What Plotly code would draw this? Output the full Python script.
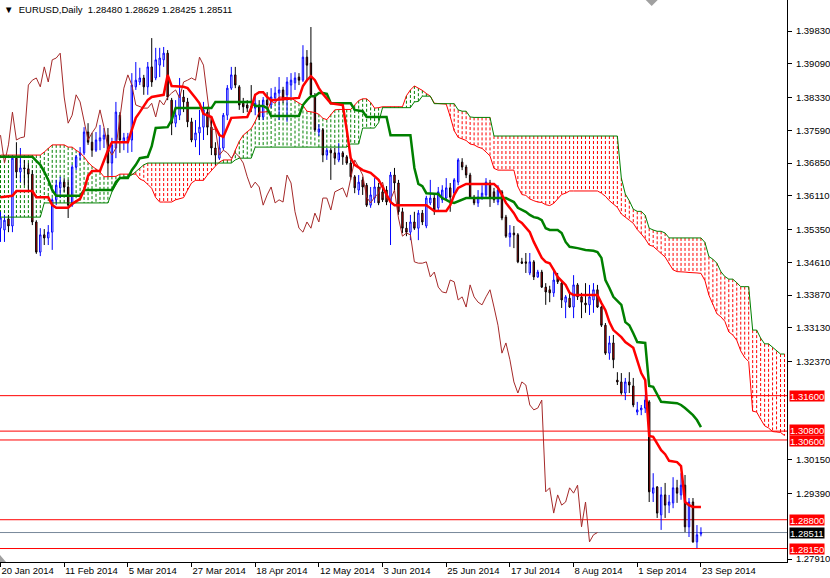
import plotly.graph_objects as go

# ---------------- data ----------------
open_ = [1.3538,1.3534,1.3559,1.3543,1.3696,1.3665,1.3674,1.3672,1.3660,1.3552,
1.3484,1.3523,1.3516,1.3529,1.3602,1.3629,1.3642,1.3631,1.3590,1.3676,
1.3703,1.3708,1.3755,1.3732,1.3714,1.3735,1.3739,1.3748,1.3685,1.3719,
1.3793,1.3732,1.3732,1.3737,1.3857,1.3868,1.3877,1.3857,1.3902,1.3877,
1.3906,1.3918,1.3933,1.3827,1.3775,1.3793,1.3834,1.3823,1.3778,1.3737,
1.3753,1.3766,1.3800,1.3766,1.3719,1.3696,1.3719,1.3793,1.3854,1.3884,
1.3857,1.3820,1.3816,1.3812,1.3809,1.3816,1.3789,1.3827,1.3816,1.3832,
1.3843,1.3850,1.3839,1.3861,1.3866,1.3879,1.3872,1.3924,1.3911,1.3834,
1.3755,1.3760,1.3703,1.3714,1.3708,1.3692,1.3708,1.3699,1.3685,1.3654,
1.3624,1.3647,1.3635,1.3590,1.3606,1.3631,1.3620,1.3624,1.3597,1.3658,
1.3640,1.3575,1.3538,1.3529,1.3552,1.3538,1.3572,1.3543,1.3595,1.3606,
1.3584,1.3602,1.3606,1.3629,1.3617,1.3642,1.3687,1.3676,1.3658,1.3608,
1.3595,1.3606,1.3613,1.3640,1.3620,1.3597,1.3620,1.3563,1.3518,1.3527,
1.3523,1.3462,1.3462,1.3437,1.3462,1.3428,1.3439,1.3405,1.3399,1.3392,
1.3428,1.3414,1.3371,1.3380,1.3360,1.3410,1.3383,1.3369,1.3365,1.3376,
1.3399,1.3360,1.3319,1.3256,1.3279,1.3195,1.3191,1.3166,1.3191,1.3182,
1.3123,1.3128,1.3132,1.3146,1.2940,1.2954,1.2891,1.2936,1.2913,1.2918,
1.2952,1.2936,1.2958,1.2864,1.2920,1.2830,1.28480]

high = [1.3575,1.3568,1.3568,1.3703,1.3732,1.3719,1.3692,1.3685,1.3669,1.3556,
1.3538,1.3536,1.3545,1.3606,1.3647,1.3654,1.3651,1.3647,1.3681,1.3703,
1.3721,1.3766,1.3775,1.3753,1.3755,1.3771,1.3764,1.3764,1.3742,1.3823,
1.3800,1.3753,1.3753,1.3888,1.3913,1.3900,1.3884,1.3913,1.3967,1.3945,
1.3945,1.3947,1.3940,1.3832,1.3827,1.3877,1.3850,1.3832,1.3787,1.3782,
1.3805,1.3823,1.3812,1.3787,1.3732,1.3753,1.3798,1.3861,1.3902,1.3902,
1.3861,1.3832,1.3827,1.3861,1.3834,1.3827,1.3834,1.3845,1.3854,1.3857,
1.3879,1.3857,1.3879,1.3888,1.3890,1.3888,1.3951,1.3940,1.3992,1.3843,
1.3773,1.3764,1.3719,1.3719,1.3719,1.3730,1.3712,1.3703,1.3692,1.3658,
1.3658,1.3654,1.3640,1.3631,1.3651,1.3640,1.3631,1.3633,1.3665,1.3674,
1.3647,1.3584,1.3552,1.3568,1.3575,1.3579,1.3579,1.3611,1.3647,1.3613,
1.3631,1.3635,1.3651,1.3640,1.3651,1.3696,1.3696,1.3681,1.3663,1.3613,
1.3624,1.3635,1.3651,1.3647,1.3629,1.3635,1.3624,1.3568,1.3545,1.3543,
1.3527,1.3471,1.3482,1.3482,1.3466,1.3444,1.3444,1.3414,1.3408,1.3444,
1.3437,1.3419,1.3387,1.3392,1.3432,1.3414,1.3392,1.3414,1.3410,1.3414,
1.3410,1.3362,1.3324,1.3295,1.3297,1.3213,1.3211,1.3200,1.3213,1.3200,
1.3146,1.3139,1.3162,1.3150,1.2985,1.2956,1.2954,1.2963,1.2936,1.2976,
1.2970,1.2985,1.2981,1.2929,1.2929,1.2868,1.28629]

low = [1.3507,1.3507,1.3529,1.3529,1.3651,1.3642,1.3635,1.3624,1.3545,1.3480,
1.3475,1.3500,1.3500,1.3489,1.3590,1.3606,1.3620,1.3561,1.3586,1.3669,
1.3692,1.3703,1.3726,1.3699,1.3710,1.3714,1.3719,1.3654,1.3656,1.3696,
1.3708,1.3714,1.3708,1.3710,1.3850,1.3861,1.3839,1.3839,1.3857,1.3872,
1.3879,1.3902,1.3827,1.3748,1.3766,1.3782,1.3800,1.3766,1.3732,1.3721,
1.3703,1.3737,1.3748,1.3703,1.3681,1.3692,1.3714,1.3782,1.3850,1.3854,
1.3805,1.3798,1.3800,1.3800,1.3793,1.3782,1.3782,1.3800,1.3809,1.3823,
1.3782,1.3820,1.3778,1.3834,1.3850,1.3861,1.3868,1.3872,1.3834,1.3755,
1.3746,1.3687,1.3692,1.3647,1.3681,1.3687,1.3681,1.3681,1.3647,1.3617,
1.3613,1.3613,1.3586,1.3584,1.3595,1.3590,1.3597,1.3590,1.3500,1.3620,
1.3568,1.3527,1.3520,1.3511,1.3534,1.3511,1.3545,1.3538,1.3590,1.3568,
1.3575,1.3595,1.3602,1.3575,1.3613,1.3635,1.3669,1.3651,1.3606,1.3590,
1.3586,1.3602,1.3606,1.3586,1.3595,1.3590,1.3556,1.3516,1.3496,1.3493,
1.3459,1.3457,1.3437,1.3432,1.3421,1.3426,1.3403,1.3365,1.3371,1.3383,
1.3412,1.3358,1.3335,1.3358,1.3335,1.3376,1.3335,1.3347,1.3342,1.3347,
1.3358,1.3315,1.3252,1.3241,1.3222,1.3184,1.3162,1.3150,1.3166,1.3134,
1.3116,1.3116,1.3121,1.2920,1.2920,1.2884,1.2857,1.2884,1.2895,1.2906,
1.2918,1.2925,1.2852,1.2841,1.2828,1.2816,1.28425]

close = [1.3561,1.3556,1.3543,1.3696,1.3665,1.3674,1.3672,1.3660,1.3552,1.3484,
1.3523,1.3516,1.3529,1.3602,1.3635,1.3642,1.3631,1.3590,1.3676,1.3699,
1.3708,1.3755,1.3732,1.3714,1.3737,1.3742,1.3748,1.3685,1.3726,1.3800,
1.3737,1.3742,1.3744,1.3861,1.3872,1.3877,1.3857,1.3902,1.3868,1.3918,
1.3922,1.3933,1.3834,1.3775,1.3793,1.3839,1.3823,1.3778,1.3737,1.3753,
1.3766,1.3805,1.3766,1.3719,1.3703,1.3719,1.3793,1.3854,1.3884,1.3861,
1.3816,1.3812,1.3809,1.3809,1.3820,1.3789,1.3827,1.3816,1.3834,1.3843,
1.3850,1.3832,1.3868,1.3872,1.3877,1.3872,1.3924,1.3906,1.3839,1.3760,
1.3762,1.3703,1.3714,1.3708,1.3696,1.3708,1.3699,1.3685,1.3654,1.3629,
1.3642,1.3631,1.3590,1.3613,1.3631,1.3595,1.3602,1.3597,1.3658,1.3640,
1.3575,1.3538,1.3529,1.3552,1.3538,1.3572,1.3552,1.3606,1.3606,1.3579,
1.3620,1.3624,1.3629,1.3608,1.3647,1.3692,1.3676,1.3658,1.3608,1.3595,
1.3608,1.3617,1.3642,1.3606,1.3602,1.3624,1.3561,1.3520,1.3527,1.3523,
1.3462,1.3459,1.3459,1.3462,1.3428,1.3439,1.3405,1.3394,1.3392,1.3421,
1.3417,1.3376,1.3383,1.3360,1.3410,1.3383,1.3371,1.3365,1.3383,1.3399,
1.3360,1.3319,1.3256,1.3279,1.3241,1.3191,1.3166,1.3191,1.3184,1.3139,
1.3128,1.3132,1.3150,1.2943,1.2952,1.2895,1.2936,1.2913,1.2920,1.2952,
1.2940,1.2958,1.2864,1.2920,1.2830,1.2846,1.28511]

bars = list(range(len(close)))   # bar 0 = 20 Jan 2014

tenkan_x = [0,3,4,8,9,12,13,14,17,18,20,21,22,23,25,26,27,28,32,33,34,35,37,38,41,42,43,46,47,49,
50,51,53,54,55,56,57,58,62,63,64,65,66,67,68,75,76,77,78,79,80,81,83,86,87,88,89,91,93,95,
96,98,99,107,109,112,113,114,115,117,124,125,126,127,129,130,131,133,134,136,137,138,139,140,142,143,144,150,151,152,
153,154,156,157,159,160,161,162,163,164,165,166,167,168,170,171,172,173,174,176]
tenkan_y = [1.3608,1.3611,1.3622,1.3622,1.3608,1.3608,1.3590,1.3584,1.3584,1.3593,
1.3604,1.3624,1.3656,1.3667,1.3667,1.3692,1.3714,1.3732,1.3732,1.3760,
1.3787,1.3800,1.3827,1.3834,1.3839,1.3884,1.3859,1.3857,1.3854,1.3832,
1.3820,1.3796,1.3789,1.3766,1.3748,1.3744,1.3766,1.3787,1.3789,1.3809,
1.3839,1.3845,1.3845,1.3834,1.3827,1.3832,1.3859,1.3872,1.3881,1.3872,
1.3854,1.3841,1.3820,1.3816,1.3760,1.3696,1.3681,1.3669,1.3663,1.3647,
1.3631,1.3597,1.3590,1.3590,1.3577,1.3577,1.3590,1.3613,1.3629,1.3638,
1.3638,1.3629,1.3613,1.3595,1.3572,1.3556,1.3550,1.3529,1.3507,1.3471,
1.3462,1.3459,1.3444,1.3428,1.3410,1.3392,1.3387,1.3387,1.3369,1.3353,
1.3326,1.3308,1.3292,1.3281,1.3268,1.3241,1.3211,1.3195,1.3069,1.3067,
1.3053,1.3037,1.3028,1.3013,1.3010,1.3001,1.2920,1.2913,1.2909,1.2909]

kijun_x = [0,8,9,10,11,12,13,14,20,21,28,29,30,32,33,34,35,37,38,39,
42,43,44,53,54,63,64,66,67,68,75,76,77,78,79,80,81,82,83,88,
89,91,92,97,98,103,104,105,106,107,110,111,112,113,114,115,116,117,127,128,
129,130,131,132,133,134,135,136,137,138,140,141,142,143,145,147,149,150,151,152,
153,154,155,156,157,158,159,160,162,163,164,165,166,170,171,172,173,174,175,176]
kijun_y = [1.3699,1.3699,1.3690,1.3681,1.3665,1.3647,1.3624,1.3611,1.3611,1.3624,
1.3624,1.3642,1.3651,1.3651,1.3669,1.3681,1.3696,1.3699,1.3723,1.3764,
1.3766,1.3782,1.3809,1.3809,1.3823,1.3823,1.3814,1.3814,1.3809,1.3791,
1.3791,1.3816,1.3827,1.3836,1.3836,1.3843,1.3843,1.3841,1.3820,1.3820,
1.3805,1.3802,1.3789,1.3789,1.3748,1.3748,1.3674,1.3638,1.3633,1.3617,
1.3615,1.3606,1.3602,1.3597,1.3595,1.3599,1.3602,1.3606,1.3606,1.3602,
1.3597,1.3584,1.3579,1.3575,1.3568,1.3563,1.3561,1.3556,1.3538,1.3534,
1.3534,1.3527,1.3507,1.3496,1.3493,1.3489,1.3487,1.3484,1.3471,1.3421,
1.3403,1.3383,1.3374,1.3365,1.3326,1.3319,1.3301,1.3281,1.3279,1.3182,
1.3180,1.3162,1.3146,1.3143,1.3139,1.3132,1.3125,1.3116,1.3105,1.3089]

# Senkou spans, one value per bar position 0..197 (already shifted forward)
span_a = [1.3703,1.3703,1.3703,1.3703,1.3703,1.3703,1.3703,1.3703,1.3703,1.3703,
1.3703,1.3710,1.3719,1.3726,1.3726,1.3726,1.3726,1.3721,1.3721,1.3714,
1.3708,1.3699,1.3687,1.3678,1.3672,1.3665,1.3654,1.3654,1.3655,1.3655,
1.3660,1.3660,1.3660,1.3660,1.3660,1.3649,1.3645,1.3637,1.3628,1.3607,
1.3597,1.3597,1.3597,1.3597,1.3602,1.3605,1.3607,1.3624,1.3640,1.3646,
1.3646,1.3646,1.3658,1.3669,1.3678,1.3687,1.3692,1.3692,1.3692,1.3714,
1.3734,1.3748,1.3756,1.3763,1.3779,1.3800,1.3800,1.3801,1.3825,1.3820,
1.3834,1.3833,1.3833,1.3832,1.3826,1.3820,1.3815,1.3802,1.3801,1.3799,
1.3795,1.3786,1.3783,1.3795,1.3805,1.3806,1.3806,1.3806,1.3806,1.3816,
1.3826,1.3830,1.3830,1.3822,1.3809,1.3810,1.3812,1.3812,1.3812,1.3812,
1.3812,1.3812,1.3837,1.3850,1.3859,1.3854,1.3849,1.3842,1.3836,1.3820,
1.3819,1.3819,1.3818,1.3790,1.3758,1.3743,1.3740,1.3736,1.3728,1.3726,
1.3721,1.3718,1.3710,1.3701,1.3673,1.3669,1.3669,1.3669,1.3669,1.3669,
1.3632,1.3614,1.3612,1.3604,1.3600,1.3597,1.3596,1.3591,1.3589,1.3594,
1.3604,1.3614,1.3617,1.3622,1.3622,1.3622,1.3622,1.3622,1.3622,1.3622,
1.3622,1.3617,1.3610,1.3600,1.3593,1.3585,1.3570,1.3564,1.3556,1.3549,
1.3535,1.3525,1.3514,1.3500,1.3497,1.3489,1.3481,1.3473,1.3458,1.3444,
1.3440,1.3440,1.3439,1.3438,1.3438,1.3437,1.3436,1.3420,1.3387,1.3365,
1.3345,1.3338,1.3328,1.3304,1.3297,1.3285,1.3261,1.3246,1.3237,1.3125,
1.3123,1.3107,1.3092,1.3087,1.3079,1.3078,1.3077,1.3070]

span_b = [1.3563,1.3563,1.3563,1.3563,1.3563,1.3563,1.3563,1.3563,1.3563,1.3563,
1.3563,1.3595,1.3595,1.3595,1.3595,1.3595,1.3595,1.3595,1.3595,1.3595,
1.3595,1.3595,1.3595,1.3595,1.3595,1.3595,1.3595,1.3595,1.3620,1.3635,
1.3651,1.3654,1.3654,1.3658,1.3665,1.3674,1.3681,1.3685,1.3685,1.3685,
1.3685,1.3685,1.3685,1.3685,1.3685,1.3685,1.3685,1.3685,1.3685,1.3685,
1.3685,1.3685,1.3685,1.3685,1.3685,1.3685,1.3685,1.3685,1.3685,1.3692,
1.3696,1.3696,1.3696,1.3696,1.3721,1.3721,1.3721,1.3721,1.3721,1.3721,
1.3721,1.3721,1.3721,1.3721,1.3721,1.3721,1.3721,1.3721,1.3721,1.3721,
1.3721,1.3721,1.3721,1.3721,1.3721,1.3721,1.3721,1.3721,1.3728,1.3728,
1.3728,1.3764,1.3764,1.3764,1.3764,1.3776,1.3810,1.3810,1.3810,1.3810,
1.3810,1.3810,1.3810,1.3810,1.3823,1.3824,1.3836,1.3836,1.3836,1.3819,
1.3819,1.3819,1.3819,1.3819,1.3819,1.3805,1.3802,1.3802,1.3789,1.3788,
1.3788,1.3788,1.3788,1.3788,1.3746,1.3746,1.3746,1.3746,1.3746,1.3746,
1.3746,1.3746,1.3746,1.3746,1.3746,1.3746,1.3746,1.3746,1.3746,1.3746,
1.3746,1.3746,1.3746,1.3746,1.3746,1.3746,1.3746,1.3746,1.3746,1.3746,
1.3746,1.3746,1.3746,1.3746,1.3746,1.3746,1.3651,1.3615,1.3600,1.3581,
1.3576,1.3576,1.3567,1.3538,1.3534,1.3531,1.3531,1.3527,1.3516,1.3516,
1.3516,1.3516,1.3516,1.3516,1.3516,1.3516,1.3516,1.3506,1.3474,1.3468,
1.3459,1.3440,1.3429,1.3423,1.3423,1.3415,1.3406,1.3406,1.3406,1.3308,
1.3308,1.3290,1.3277,1.3277,1.3269,1.3260,1.3254,1.3254]

chikou_shift = 26

date_ticks = [0,16,32,48,64,80,96,112,128,144,160,176]
date_labels = ["20 Jan 2014","11 Feb 2014","5 Mar 2014","27 Mar 2014","18 Apr 2014",
               "12 May 2014","3 Jun 2014","25 Jun 2014","17 Jul 2014","8 Aug 2014",
               "1 Sep 2014","23 Sep 2014"]

price_ticks = [1.39830,1.39090,1.38330,1.37590,1.36850,1.36110,1.35350,1.34610,1.33870,
               1.33130,1.32370,1.30150,1.29390,1.27910]

level_prices = [1.31600,1.30800,1.30600,1.28800,1.28150]
level_label_nudge = [0, 1, -1, 0, 0]     # px, keeps the two stacked tags apart
bid_price = 1.28511
header = "EURUSD,Daily\u00a0\u00a01.28480 1.28629 1.28425 1.28511"

# ---------------- figure ----------------
FONT = "Liberation Sans"
RED, GREEN, BLUE, BROWN = "#FF0000", "#008000", "#0000FF", "#A52A2A"

fig = go.Figure()

# cloud hatch (dotted vertical strokes), drawn below the candles
green_parts, red_parts = [], []
for p, (a, b) in enumerate(zip(span_a, span_b)):
    if a == b:
        continue
    seg = f"M {p},{max(a, b)} L {p},{min(a, b)}"
    (green_parts if a > b else red_parts).append(seg)

shapes = []
for parts, col in ((green_parts, GREEN), (red_parts, RED)):
    shapes.append(dict(type="path", xref="x", yref="y", path=" ".join(parts),
                       line=dict(color=col, width=1, dash="3px,2px"), layer="below"))

for lv in level_prices:
    shapes.append(dict(type="line", xref="paper", x0=0, x1=1, yref="y", y0=lv, y1=lv,
                       line=dict(color=RED, width=1), layer="below"))
shapes.append(dict(type="line", xref="paper", x0=0, x1=1, yref="y", y0=bid_price, y1=bid_price,
                   line=dict(color="#778899", width=1), layer="below"))

# small grey chart-shift markers of the terminal (top and bottom-left)
shapes.append(dict(type="path", xref="paper", yref="paper",
                   path="M 0.8205,1 L 0.8357,1 L 0.8281,0.9893 Z",
                   fillcolor="#A0A0A0", line=dict(width=0), layer="above"))
shapes.append(dict(type="path", xref="paper", yref="paper",
                   path="M 0,0.0125 L 0,0 L 0.0076,0 Z",
                   fillcolor="#A0A0A0", line=dict(width=0), layer="above"))

fig.add_trace(go.Candlestick(
    x=bars, open=open_, high=high, low=low, close=close,
    increasing=dict(line=dict(color=BLUE, width=1), fillcolor="#FFFFFF"),
    decreasing=dict(line=dict(color="#000000", width=1), fillcolor=RED),
    whiskerwidth=0, hoverinfo="skip", showlegend=False))

span_x = list(range(len(span_a)))
fig.add_trace(go.Scatter(x=span_x, y=span_a, mode="lines", line=dict(color=RED, width=1),
                         hoverinfo="skip", showlegend=False))
fig.add_trace(go.Scatter(x=span_x, y=span_b, mode="lines", line=dict(color=GREEN, width=1),
                         hoverinfo="skip", showlegend=False))

fig.add_trace(go.Scatter(x=[i - chikou_shift for i in bars[chikou_shift:]], y=close[chikou_shift:],
                         mode="lines", line=dict(color=BROWN, width=1),
                         hoverinfo="skip", showlegend=False))

fig.add_trace(go.Scatter(x=kijun_x, y=kijun_y, mode="lines", line=dict(color=GREEN, width=2.5),
                         hoverinfo="skip", showlegend=False))
fig.add_trace(go.Scatter(x=tenkan_x, y=tenkan_y, mode="lines", line=dict(color=RED, width=2.5),
                         hoverinfo="skip", showlegend=False))

annotations = []
for lv, nudge in zip(level_prices, level_label_nudge):
    annotations.append(dict(xref="paper", x=1, xanchor="left", xshift=2, yref="y", y=lv,
                            yanchor="middle", yshift=nudge, text=f"{lv:.5f}", showarrow=False,
                            bgcolor=RED, borderpad=0, height=10,
                            font=dict(family=FONT, size=9.5, color="#FFFFFF")))
annotations.append(dict(xref="paper", x=1, xanchor="left", xshift=2, yref="y", y=bid_price,
                        yanchor="middle", text=f"{bid_price:.5f}", showarrow=False,
                        bgcolor="#000000", borderpad=0, height=10,
                        font=dict(family=FONT, size=9.5, color="#FFFFFF")))
annotations.append(dict(xref="paper", x=0, xanchor="left", xshift=2, yref="paper", y=1,
                        yanchor="top", yshift=-2, text="\u25bc\u00a0\u00a0" + header,
                        showarrow=False, font=dict(family=FONT, size=9.5, color="#000000")))

x0 = -0.125
fig.update_layout(
    width=830, height=578,
    margin=dict(l=0, r=39, t=0, b=16, pad=0),
    paper_bgcolor="#FFFFFF", plot_bgcolor="#FFFFFF",
    showlegend=False, hovermode=False, boxgap=0.5,
    font=dict(family=FONT, size=9.5, color="#000000"),
    shapes=shapes, annotations=annotations,
    xaxis=dict(range=[x0, x0 + 791 / 4], showgrid=False, zeroline=False,
               showline=True, linecolor="#000000", linewidth=1,
               ticks="outside", ticklen=4, tickcolor="#000000",
               tickvals=date_ticks, ticktext=date_labels,
               ticklabelposition="outside right",
               tickfont=dict(family=FONT, size=9.5, color="#000000"),
               rangeslider=dict(visible=False), fixedrange=True),
    yaxis=dict(range=[1.27846, 1.40530], side="right", showgrid=False, zeroline=False,
               showline=True, linecolor="#000000", linewidth=1,
               ticks="outside", ticklen=4, tickcolor="#000000", ticklabelstandoff=2,
               tickvals=price_ticks, ticktext=[f"{v:.5f}" for v in price_ticks],
               tickfont=dict(family=FONT, size=9.5, color="#000000"), fixedrange=True),
)

fig.write_html("out.html", config={"displayModeBar": False},
               post_script="document.body.style.margin='0';document.body.style.padding='0';"
                           "document.body.style.overflow='hidden';")
